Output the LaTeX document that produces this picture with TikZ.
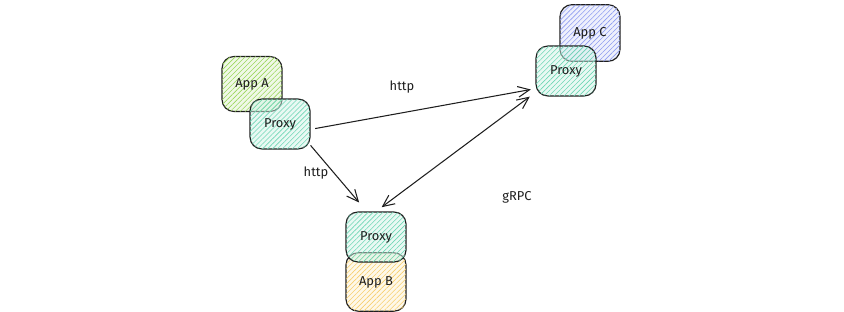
\documentclass[tikz,border=0pt]{standalone}
\usepackage{fontspec}
\setsansfont{Fira Sans}
\usetikzlibrary{arrows.meta, patterns.meta}
\definecolor{ink}{HTML}{1E1E1E}
\definecolor{greenA}{HTML}{9CD65E}
\definecolor{tealP}{HTML}{6ED6B4}
\definecolor{blueC}{HTML}{8E9CF0}
\definecolor{yellowB}{HTML}{F7CF6E}
\tikzstyle{box}=[draw=ink, line width=1pt, rounded corners=0.36cm, inner sep=0pt,
  font=\sffamily\fontsize{11}{13}\selectfont, text=ink, minimum width=1.8cm]
\tikzstyle{proxy}=[box, minimum height=1.5cm, fill=tealP!30, fill opacity=0.5, text opacity=1,
  postaction={pattern={Lines[angle=45, distance=3pt, line width=0.5pt]}, pattern color=tealP}]
\tikzstyle{appA}=[box, minimum height=1.65cm, fill=greenA!30, fill opacity=0.5, text opacity=1,
  postaction={pattern={Lines[angle=45, distance=3pt, line width=0.5pt]}, pattern color=greenA}]
\tikzstyle{appB}=[box, minimum height=1.75cm, fill=yellowB!30, fill opacity=0.5, text opacity=1,
  postaction={pattern={Lines[angle=45, distance=3pt, line width=0.5pt]}, pattern color=yellowB}]
\tikzstyle{appC}=[box, minimum height=1.7cm, fill=blueC!30, fill opacity=0.5, text opacity=1,
  postaction={pattern={Lines[angle=45, distance=3pt, line width=0.5pt]}, pattern color=blueC}]
\tikzstyle{conn}=[draw=ink, line width=0.9pt, -{Straight Barb[length=3.5mm, width=3.2mm]}]
\tikzstyle{lbl}=[font=\sffamily\fontsize{11}{13}\selectfont, text=ink]

\begin{document}
\begin{tikzpicture}[x=0.03cm, y=-0.03cm]
    \useasboundingbox (0,0) rectangle (844,312);
    \coordinate (cA) at (252,84);
    \coordinate (cpA) at (280,124);
    \coordinate (cC) at (590,33);
    \coordinate (cpC) at (566,71);
    \coordinate (cpB) at (376,237);
    \coordinate (cB) at (376,282);
    \node[appA] (appA) at (cA) {App A};
    \node[proxy] (proxyA) at (cpA) {Proxy};
    \node[appC] (appC) at (cC) {App C};
    \node[proxy] (proxyC) at (cpC) {Proxy};
    \node[appB] (appB) at (cB) {App B};
    \node[proxy] (proxyB) at (cpB) {Proxy};
    \draw[conn, shorten <=4pt, shorten >=4pt] (proxyA.-10) -- (proxyC.-150);
    \draw[conn, shorten >=10pt] (proxyA.-35) -- (proxyB.110);
    \draw[conn, {Straight Barb[length=3.5mm, width=3.2mm]}-{Straight Barb[length=3.5mm, width=3.2mm]},
      shorten <=6pt, shorten >=6pt] (proxyB.north) -- (proxyC.-145);
    \node[lbl] (http1) at (402,87) {http};
    \node[lbl] (http2) at (316,173) {http};
    \node[lbl] (grpc) at (517,197) {gRPC};
\end{tikzpicture}
\end{document}
